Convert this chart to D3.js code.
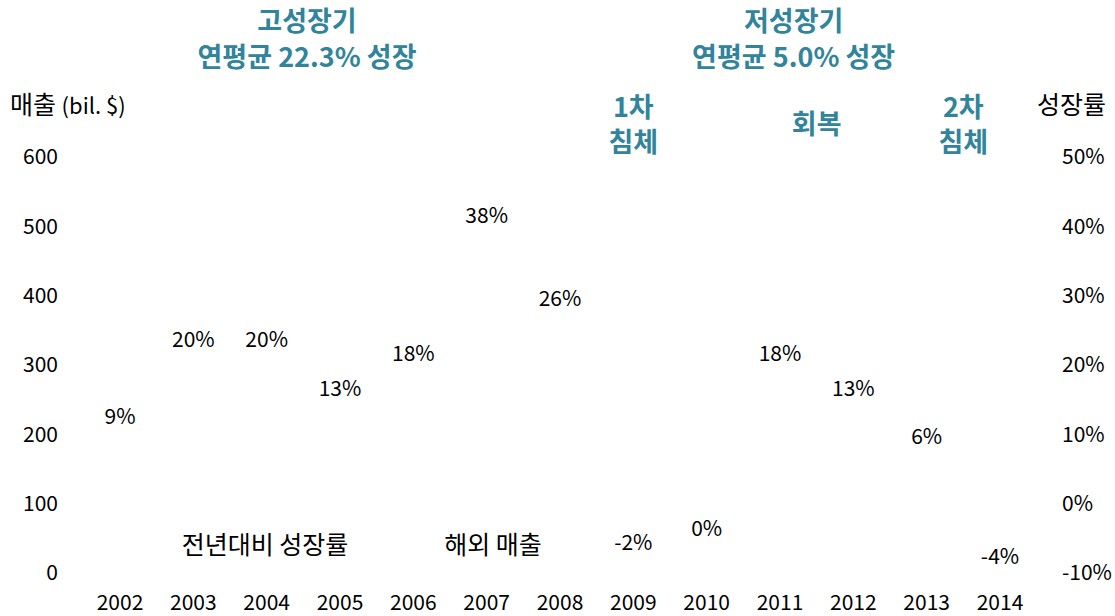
<!DOCTYPE html>
<html><head><meta charset="utf-8">
<script src="https://cdn.jsdelivr.net/npm/d3@7"></script>
<style>
body{margin:0;background:#fff;}
text{font-family:"Noto Sans CJK KR","Open Sans",sans-serif;}
</style></head>
<body><svg id="c" width="1115" height="616"></svg>
<script>
const years = ["2002","2003","2004","2005","2006","2007","2008","2009","2010","2011","2012","2013","2014"];
const growth = [9,20,20,13,18,38,26,-2,0,18,13,6,-4];
const leftTicks = [0,100,200,300,400,500,600];
const rightTicks = [-10,0,10,20,30,40,50];
const phaseTitles = [
  {lines:["고성장기","연평균 22.3% 성장"], from:"2002", to:"2008"},
  {lines:["저성장기","연평균 5.0% 성장"], from:"2009", to:"2014"}
];
const stageNotes = [
  {lines:["1차","침체"], year:"2009"},
  {lines:["회복"], year:"2011.5"},
  {lines:["2차","침체"], year:"2013.5"}
];
const legendItems = ["전년대비 성장률","해외 매출"];

const svg = d3.select("#c");
const teal = "#31849b";
const numSize = 21, korSize = 25;
const x = d3.scalePoint().domain(years).range([120,1000]);
const yL = d3.scaleLinear().domain([0,600]).range([573,157]);
const yR = d3.scaleLinear().domain([-10,50]).range([573,157]);
const step = x.step();
const xNum = v => x("2002") + (parseFloat(v)-2002)*step;

// left axis labels
svg.append("g").selectAll("text").data(leftTicks).join("text")
  .attr("x",58).attr("y",d=>yL(d)).attr("dy","0.35em").attr("text-anchor","end")
  .attr("font-size",numSize).attr("fill","#000").text(d=>d);
// right axis labels
svg.append("g").selectAll("text").data(rightTicks).join("text")
  .attr("x",1062).attr("y",d=>yR(d)).attr("dy","0.35em").attr("text-anchor","start")
  .attr("font-size",numSize).attr("fill","#000").text(d=>d+"%");
// x labels
svg.append("g").selectAll("text").data(years).join("text")
  .attr("x",d=>x(d)).attr("y",603).attr("dy","0.35em").attr("text-anchor","middle")
  .attr("font-size",numSize).attr("fill","#000").text(d=>d);
// axis titles
const lt = svg.append("text").attr("x",10).attr("y",108).attr("dy","0.35em");
lt.append("tspan").attr("font-size",korSize).text("매출 ");
lt.append("tspan").attr("font-size",22).text("(bil. $)");
svg.append("text").attr("x",1106).attr("y",105).attr("dy","0.35em").attr("text-anchor","end").attr("font-size",korSize).text("성장률");

// growth labels (line itself is invisible in reference)
svg.append("g").selectAll("text").data(growth.map((g,i)=>({g,year:years[i]}))).join("text")
  .attr("x",d=>x(d.year)).attr("y",d=>yR(d.g) + (d.g>0 ? -25 : 25)).attr("dy","0.35em")
  .attr("text-anchor","middle").attr("font-size",numSize).attr("fill","#000").text(d=>d.g+"%");

// legend
svg.append("text").attr("x",265).attr("y",545).attr("dy","0.35em").attr("text-anchor","middle").attr("font-size",korSize).text(legendItems[0]);
svg.append("text").attr("x",493).attr("y",545).attr("dy","0.35em").attr("text-anchor","middle").attr("font-size",korSize).text(legendItems[1]);

// phase titles
const ptLines = phaseTitles.flatMap(d=>d.lines.map((l,i)=>({l,i,cx:(x(d.from)+x(d.to))/2 + (d.from==="2002"? -33 : -23)})));
svg.append("g").selectAll("text").data(ptLines).join("text")
  .attr("x",d=>d.cx).attr("y",d=>22+d.i*36).attr("dy","0.35em").attr("text-anchor","middle")
  .attr("font-size",27).attr("font-weight","bold").attr("fill",teal).text(d=>d.l);
// stage notes
const snLines = stageNotes.flatMap(d=>d.lines.map((l,i)=>({l,i,n:d.lines.length,cx:xNum(d.year)})));
svg.append("g").selectAll("text").data(snLines).join("text")
  .attr("x",d=>d.cx).attr("y",d=> d.n===1 ? 125 : 108+d.i*35).attr("dy","0.35em").attr("text-anchor","middle")
  .attr("font-size",27).attr("font-weight","bold").attr("fill",teal).text(d=>d.l);
</script></body></html>
